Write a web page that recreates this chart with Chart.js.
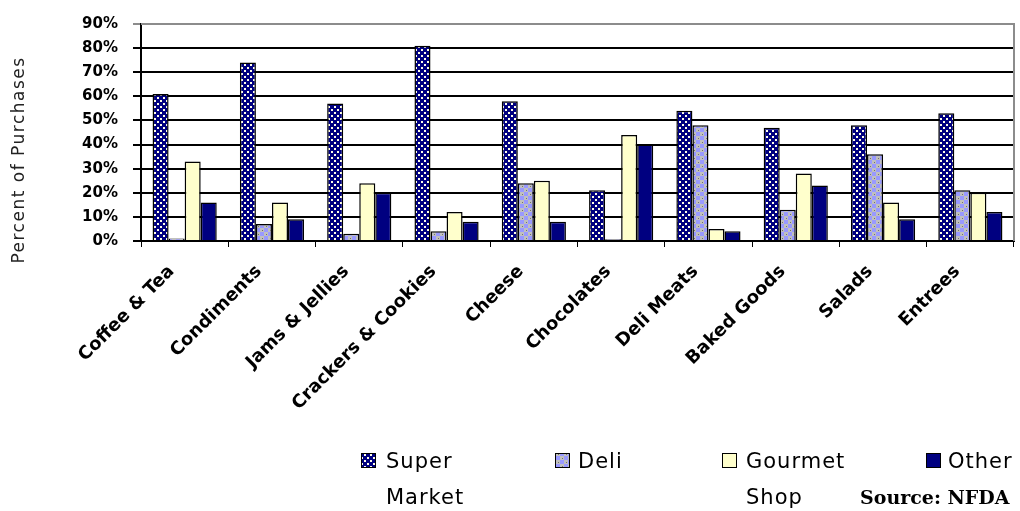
<!DOCTYPE html>
<html>
<head>
<meta charset="utf-8">
<script src="https://cdn.jsdelivr.net/npm/chart.js@4/dist/chart.umd.min.js"></script>
<style>
  html, body { margin: 0; padding: 0; background: #fff; }
  #wrap { width: 1020px; height: 511px; position: relative; }
</style>
</head>
<body>
<div id="wrap"><canvas id="chart" width="1020" height="511"></canvas></div>
<script>
// Where shoppers buy specialty food, by category (percent of purchases)
const categories = ['Coffee & Tea', 'Condiments', 'Jams & Jellies', 'Crackers & Cookies', 'Cheese',
                    'Chocolates', 'Deli Meats', 'Baked Goods', 'Salads', 'Entrees'];
const seriesNames = ['Super Market', 'Deli', 'Gourmet Shop', 'Other'];
const superMarket = [61, 74, 57, 81, 58, 21, 54, 47, 48, 53];
const deli        = [1, 7, 3, 4, 24, 0.7, 48, 13, 36, 21];
const gourmetShop = [33, 16, 24, 12, 25, 44, 5, 28, 16, 20];
const other       = [16, 9, 20, 8, 8, 40, 4, 23, 9, 12];
const yMax = 90;
const yStep = 10;
const sourceNote = 'Source: NFDA';
const yTitle = 'Percent of Purchases';

// Fill patterns for the hatched series
function dottedNavy() {
  const c = document.createElement('canvas');
  c.width = 6; c.height = 6;
  const g = c.getContext('2d');
  g.fillStyle = '#000080'; g.fillRect(0, 0, 6, 6);
  g.fillStyle = '#ffffe8';
  g.fillRect(1, 1, 2, 2);
  g.fillRect(4, 4, 2, 2);
  return g.createPattern(c, 'repeat');
}
function checkedPeriwinkle() {
  const c = document.createElement('canvas');
  c.width = 8; c.height = 8;
  const g = c.getContext('2d');
  g.fillStyle = '#9999ff'; g.fillRect(0, 0, 8, 8);
  g.fillStyle = '#c0c0c0';
  g.fillRect(0, 0, 4, 4);
  g.fillRect(4, 4, 4, 4);
  g.fillStyle = '#707070';
  g.fillRect(2, 2, 1, 1);
  g.fillRect(6, 6, 1, 1);
  return g.createPattern(c, 'repeat');
}

const fills = [dottedNavy(), checkedPeriwinkle(), '#ffffcc', '#000080'];
const seriesData = [superMarket, deli, gourmetShop, other];

// Grey frame on the top and right of the plot area
const framePlugin = {
  id: 'frame',
  afterDraw(chart) {
    const { ctx, chartArea: a } = chart;
    ctx.save();
    ctx.strokeStyle = '#8c8c8c';
    ctx.lineWidth = 2;
    ctx.beginPath();
    ctx.moveTo(a.left, a.top);
    ctx.lineTo(a.right, a.top);
    ctx.lineTo(a.right, a.bottom);
    ctx.stroke();
    ctx.restore();
  }
};

// Axis title, wrapped legend and source note
const notesPlugin = {
  id: 'notes',
  afterDraw(chart) {
    const { ctx } = chart;
    ctx.save();
    // vertical axis title
    ctx.translate(20, 160);
    ctx.rotate(-Math.PI / 2);
    ctx.fillStyle = '#222';
    ctx.font = '17px "DejaVu Sans"';
    ctx.letterSpacing = '1.5px';
    ctx.textAlign = 'center';
    ctx.textBaseline = 'middle';
    ctx.fillText(yTitle, 0, 0);
    ctx.restore();

    // legend
    const legendX = [361, 555, 722, 926];
    const textX = [386, 578, 746, 948];
    ctx.save();
    ctx.font = '21px "DejaVu Sans"';
    ctx.letterSpacing = '1px';
    ctx.textAlign = 'left';
    ctx.textBaseline = 'alphabetic';
    chart.data.datasets.forEach((ds, i) => {
      const x = legendX[i];
      ctx.fillStyle = ds.backgroundColor;
      ctx.fillRect(x, 453, 15, 15);
      ctx.strokeStyle = '#000';
      ctx.lineWidth = 1;
      ctx.strokeRect(x + 0.5, 453.5, 14, 14);
      ctx.fillStyle = '#000';
      const words = ds.label.split(' ');
      words.forEach((w, j) => {
        ctx.fillText(w, textX[i], 468 + j * 36);
      });
    });
    ctx.restore();

    // source
    ctx.save();
    ctx.fillStyle = '#000';
    ctx.font = 'bold 19px "DejaVu Serif"';
    ctx.textAlign = 'left';
    ctx.fillText(sourceNote, 860, 504);
    ctx.restore();
  }
};

new Chart(document.getElementById('chart'), {
  type: 'bar',
  data: {
    labels: categories,
    datasets: seriesNames.map((name, i) => ({
      label: name,
      data: seriesData[i],
      backgroundColor: fills[i],
      borderColor: '#000',
      borderWidth: 1.5,
      categoryPercentage: 0.735,
      barPercentage: 1.0
    }))
  },
  options: {
    responsive: false,
    animation: false,
    layout: { padding: { top: 20, right: 6, left: 0, bottom: 0 } },
    plugins: {
      legend: { display: false },
      tooltip: { enabled: false }
    },
    scales: {
      x: {
        grid: { offset: true, drawOnChartArea: false, drawTicks: true, tickLength: 6, color: '#000', lineWidth: 1 },
        border: { color: '#000', width: 2 },
        ticks: {
          autoSkip: false, minRotation: 45, maxRotation: 45,
          color: '#000', padding: 14, labelOffset: -13,
          font: { family: 'DejaVu Sans', weight: 'bold', size: 18 }
        },
        afterFit(scale) { scale.height = 270; }
      },
      y: {
        min: 0, max: yMax,
        ticks: {
          stepSize: yStep, color: '#000', padding: 15,
          callback: v => v + '%',
          font: { family: 'DejaVu Sans', weight: 'bold', size: 15 }
        },
        grid: {
          color: c => (c.tick && c.tick.value === yMax) ? '#8c8c8c' : '#000',
          lineWidth: 2, tickLength: 8, drawTicks: true
        },
        border: { color: '#000', width: 2 },
        afterFit(scale) { scale.width = 141; }
      }
    }
  },
  plugins: [framePlugin, notesPlugin]
});
</script>
</body>
</html>
